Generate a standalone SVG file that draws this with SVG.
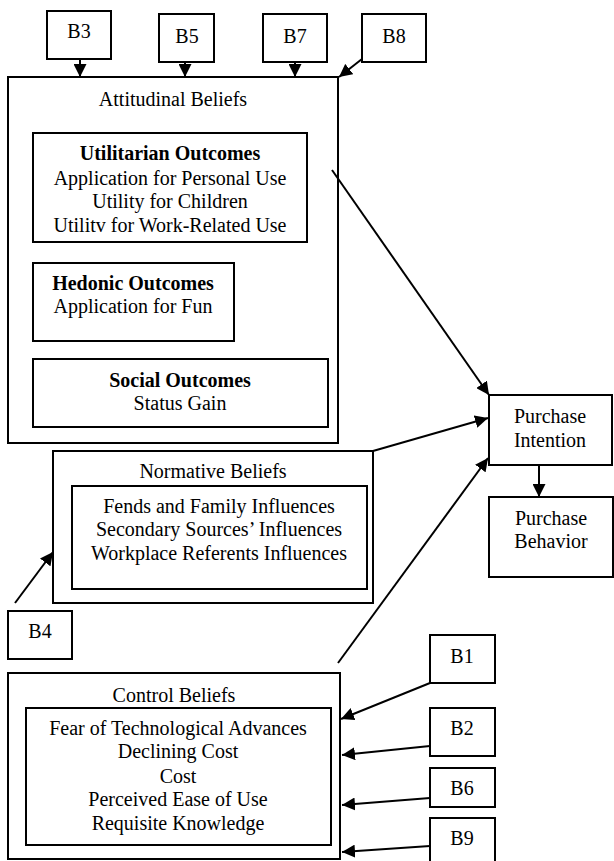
<svg xmlns="http://www.w3.org/2000/svg" width="614" height="861" viewBox="0 0 614 861">
<defs>
<marker id="ah" markerUnits="userSpaceOnUse" markerWidth="14" markerHeight="13" refX="13" refY="6.5" orient="auto">
<path d="M0,0 L13,6.5 L0,13 z" fill="#000"/>
</marker>
</defs>
<style>
rect{fill:#fff;stroke:#000;stroke-width:2}
text{font-family:"Liberation Serif","Times New Roman",serif;font-size:20px;fill:#000;text-anchor:middle}
.b{font-weight:bold}
.c line{stroke:#000;stroke-width:2;marker-end:url(#ah)}
</style>
<rect x="0" y="0" width="614" height="861" style="stroke:none"/>
<g id="attitudinal">
<rect x="8" y="77" width="330" height="366"/>
<text x="173" y="106">Attitudinal Beliefs</text>
</g>
<g id="utilitarian">
<rect x="33" y="133" width="274" height="109"/>
<text x="170" y="160" class="b">Utilitarian Outcomes</text>
<text x="170" y="185">Application for Personal Use</text>
<text x="170" y="208">Utility for Children</text>
<text x="170" y="232">Utilitv for Work-Related Use</text>
</g>
<g id="hedonic">
<rect x="33" y="263" width="201" height="78"/>
<text x="133" y="290" class="b">Hedonic Outcomes</text>
<text x="133" y="313">Application for Fun</text>
</g>
<g id="social">
<rect x="33" y="359" width="295" height="68"/>
<text x="180" y="387" class="b">Social Outcomes</text>
<text x="180" y="410">Status Gain</text>
</g>
<g id="normative">
<rect x="53" y="451" width="320" height="152"/>
<text x="213" y="478">Normative Beliefs</text>
<rect x="72" y="486" width="295" height="103"/>
<text x="219" y="513">Fends and Family Influences</text>
<text x="219" y="536">Secondary Sources’ Influences</text>
<text x="219" y="560">Workplace Referents Influences</text>
</g>
<g id="control">
<rect x="8" y="673" width="332" height="186"/>
<text x="174" y="702">Control Beliefs</text>
<rect x="26" y="708" width="305" height="137"/>
<text x="178" y="735">Fear of Technological Advances</text>
<text x="178" y="758">Declining Cost</text>
<text x="178" y="783">Cost</text>
<text x="178" y="806">Perceived Ease of Use</text>
<text x="178" y="830">Requisite Knowledge</text>
</g>
<g id="intention">
<rect x="489" y="395" width="123" height="70"/>
<text x="550" y="423">Purchase</text>
<text x="550" y="447">Intention</text>
</g>
<g id="behavior">
<rect x="489" y="497" width="124" height="80"/>
<text x="551" y="525">Purchase</text>
<text x="551" y="548">Behavior</text>
</g>
<g id="b3"><rect x="47" y="11" width="64" height="48"/><text x="79" y="38">B3</text></g>
<g id="b5"><rect x="159" y="14" width="55" height="48"/><text x="187" y="43">B5</text></g>
<g id="b7"><rect x="263" y="14" width="64" height="48"/><text x="295" y="43">B7</text></g>
<g id="b8"><rect x="362" y="14" width="64" height="48"/><text x="394" y="43">B8</text></g>
<g id="b4"><rect x="8" y="611" width="64" height="48"/><text x="40" y="638">B4</text></g>
<g id="b1"><rect x="430" y="635" width="65" height="48"/><text x="462" y="663">B1</text></g>
<g id="b2"><rect x="430" y="708" width="65" height="48"/><text x="462" y="735">B2</text></g>
<g id="b6"><rect x="430" y="768" width="65" height="39"/><text x="462" y="795">B6</text></g>
<g id="b9"><rect x="430" y="818" width="65" height="48"/><text x="462" y="845">B9</text></g>
<g id="connectors" class="c">
<line x1="80" y1="59" x2="80" y2="77"/>
<line x1="185" y1="62" x2="185" y2="77"/>
<line x1="295" y1="62" x2="295" y2="77"/>
<line x1="362" y1="59" x2="339" y2="77"/>
<line x1="332" y1="170" x2="489" y2="395"/>
<line x1="373" y1="451" x2="488" y2="418"/>
<line x1="338" y1="663" x2="488" y2="458"/>
<line x1="539" y1="465" x2="539" y2="497"/>
<line x1="15" y1="603" x2="53" y2="552"/>
<line x1="430" y1="683" x2="341" y2="719"/>
<line x1="430" y1="746" x2="342" y2="755"/>
<line x1="430" y1="798" x2="342" y2="805"/>
<line x1="430" y1="846" x2="342" y2="852"/>
</g>
</svg>
